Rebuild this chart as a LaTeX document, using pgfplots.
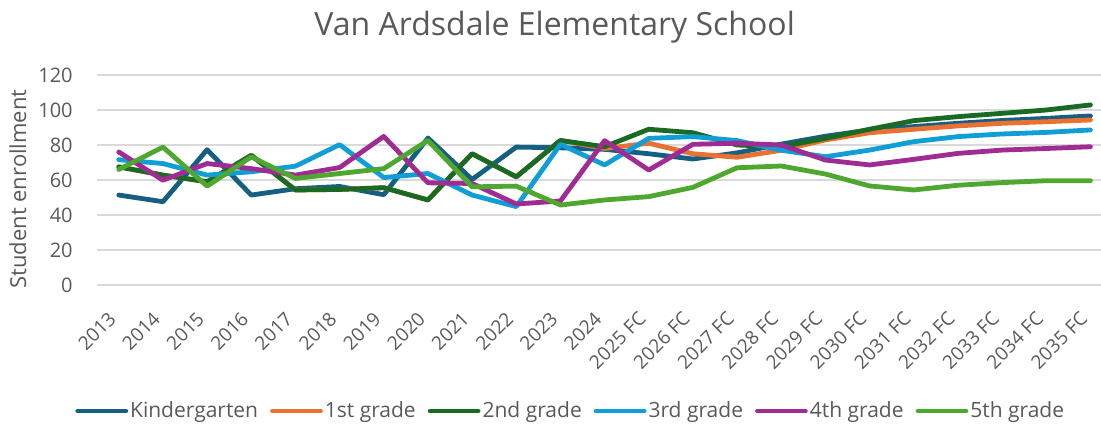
\documentclass[border=0pt]{standalone}
\usepackage{pgfplots}
\usepackage{pgfplotstable}
\pgfplotsset{compat=1.18}
\usepackage{fontspec}
\setmainfont{Open Sans}

\definecolor{cK}{HTML}{156082}
\definecolor{cA}{HTML}{E97132}
\definecolor{cB}{HTML}{196B24}
\definecolor{cC}{HTML}{0F9ED5}
\definecolor{cD}{HTML}{A02B93}
\definecolor{cE}{HTML}{4EA72E}
\definecolor{txt}{HTML}{595959}
\definecolor{gridc}{HTML}{D9D9D9}

% enrollment by year (0 = 2013 ... 22 = 2035 FC)
\pgfplotstableread{
idx  K     G1    G2    G3    G4    G5
0    51.4  67.5  67.5  71.6  76.0  66.0
1    47.6  62.8  62.8  69.4  59.9  78.8
2    77.3  59.0  59.0  62.8  69.4  56.5
3    51.4  74.1  74.1  64.7  66.5  73.2
4    55.0  54.3  54.3  67.9  62.8  60.9
5    56.3  54.6  54.6  80.2  67.1  63.7
6    51.6  55.6  55.6  61.4  84.9  66.5
7    84.0  48.6  48.6  63.7  58.4  82.6
8    60.3  75.0  75.0  51.4  58.0  56.1
9    78.8  61.8  61.8  44.8  46.3  56.5
10   78.4  82.6  82.6  80.4  48.0  45.7
11   77.5  78.0  79.0  68.6  82.5  48.6
12   75.0  81.0  89.0  83.8  65.7  50.5
13   72.0  75.0  87.0  84.8  80.4  55.8
14   75.5  73.0  80.0  82.5  81.0  67.0
15   80.5  77.0  79.0  77.0  80.0  68.0
16   85.0  82.9  83.8  73.3  71.4  63.4
17   88.6  87.0  89.0  77.1  68.6  56.6
18   90.5  89.0  93.9  81.9  71.8  54.3
19   92.4  90.9  96.2  84.8  75.2  57.0
20   94.0  92.4  98.1  86.3  77.1  58.5
21   95.2  93.3  100.0 87.2  78.0  59.6
22   96.6  94.3  102.9 88.6  79.0  59.6
}\enrol

\begin{document}
\begin{tikzpicture}
\path[use as bounding box] (-48.35pt,-69pt) rectangle (502.15pt,142.5pt);
\begin{axis}[
    at={(0,0)}, anchor=south west,
    scale only axis,
    width=502.15pt, height=105pt,
    xmin=-0.5, xmax=22.24,
    ymin=0, ymax=120,
    ytick={0,20,...,120},
    xtick={0,...,22},
    xticklabels={2013,2014,2015,2016,2017,2018,2019,2020,2021,2022,2023,2024,
        2025 FC,2026 FC,2027 FC,2028 FC,2029 FC,2030 FC,2031 FC,2032 FC,2033 FC,2034 FC,2035 FC},
    axis line style={draw=none},
    major tick length=0pt,
    ymajorgrids,
    grid style={gridc, line width=0.6pt},
    /pgf/number format/assume math mode=true,
    tick label style={text=txt},
    yticklabel style={font=\fontsize{10}{12}\selectfont, xshift=-8.5pt},
    xticklabel style={font=\fontsize{9.5}{11}\selectfont, rotate=45, anchor=east,
        xshift=-9.6pt, yshift=-8.5pt},
    title={Van Ardsdale Elementary School},
    every axis title shift=0pt,
    title style={at={(0.456,1.19)}, anchor=base, font=\fontsize{16}{19}\selectfont, text=txt},
    ylabel={Student enrollment},
    every axis y label/.style={at={(-0.0784,0.457)}, rotate=90, anchor=center,
        font=\fontsize{11}{13}\selectfont, text=txt},
    legend columns=6,
    legend style={at={(0.472,-0.6)}, anchor=center, draw=none, fill=none,
        font=\fontsize{10.5}{12}\selectfont, text=txt,
        nodes={inner xsep=1pt},
        /tikz/every even column/.append style={column sep=5pt},
        /tikz/every odd column/.append style={column sep=0pt}},
    legend image code/.code={\draw[#1, line cap=round] (0pt,0pt) -- (24pt,0pt);},
    every axis plot/.append style={line width=2.4pt, line join=round, line cap=round, mark=none},
]
\addplot[cK] table[x=idx, y=K] {\enrol};
\addplot[cA] table[x=idx, y=G1] {\enrol};
\addplot[cB] table[x=idx, y=G2] {\enrol};
\addplot[cC] table[x=idx, y=G3] {\enrol};
\addplot[cD] table[x=idx, y=G4] {\enrol};
\addplot[cE] table[x=idx, y=G5] {\enrol};
\legend{Kindergarten, 1st grade, 2nd grade, 3rd grade, 4th grade, 5th grade}
\end{axis}
\end{tikzpicture}
\end{document}
